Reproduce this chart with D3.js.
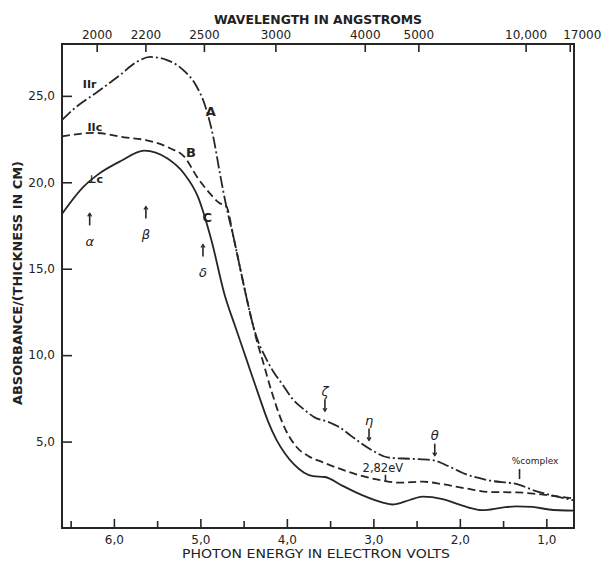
<!DOCTYPE html>
<html>
<head>
<meta charset="utf-8">
<script src="https://cdn.jsdelivr.net/npm/d3@7"></script>
<style>
body { margin: 0; background: #fff; }
svg text { font-family: "DejaVu Sans", sans-serif; fill: #222; }
</style>
</head>
<body>
<div class="chart"></div>
<script>
// curve A, "II r", dash-dot
const energyA = [6.60, 6.45, 6.20, 5.93, 5.74, 5.58, 5.40, 5.20, 5.05, 4.95, 4.85, 4.77, 4.70, 4.62, 4.56, 4.47, 4.40, 4.34, 4.25, 4.15, 4.05, 3.94, 3.80, 3.68, 3.53, 3.40, 3.25, 3.05, 2.82, 2.55, 2.32, 2.13, 1.94, 1.67, 1.32, 1.13, 0.94, 0.68];
const absA    = [23.6, 24.3, 25.2, 26.2, 26.95, 27.25, 27.1, 26.5, 25.6, 24.5, 22.6, 20.4, 18.6, 16.9, 15.5, 13.4, 11.9, 10.9, 9.9, 9.0, 8.3, 7.5, 6.85, 6.4, 6.15, 5.85, 5.3, 4.6, 4.07, 4.0, 3.93, 3.57, 3.13, 2.76, 2.51, 2.15, 1.89, 1.6];

// curve B, "II c", dashed
const energyB = [6.60, 6.23, 5.88, 5.62, 5.35, 5.19, 5.03, 4.88, 4.78, 4.70, 4.62, 4.56, 4.47, 4.40, 4.34, 4.29, 4.17, 4.05, 3.89, 3.74, 3.59, 3.39, 3.16, 2.89, 2.70, 2.43, 2.20, 1.92, 1.66, 1.34, 1.11, 0.68];
const absB    = [22.65, 22.86, 22.6, 22.43, 21.97, 21.5, 20.25, 19.3, 18.8, 18.6, 16.9, 15.5, 13.4, 11.9, 10.7, 9.86, 7.79, 6.07, 4.70, 4.13, 3.81, 3.43, 3.05, 2.74, 2.62, 2.68, 2.53, 2.28, 2.08, 2.06, 1.97, 1.7];

// curve C, "perpendicular c", solid
const energyC = [6.60, 6.35, 6.19, 5.92, 5.65, 5.38, 5.19, 5.03, 4.87, 4.72, 4.60, 4.47, 4.32, 4.22, 4.12, 4.02, 3.92, 3.80, 3.70, 3.56, 3.36, 3.13, 2.89, 2.78, 2.58, 2.43, 2.20, 1.97, 1.74, 1.51, 1.35, 1.16, 0.97, 0.68];
const absC    = [18.17, 19.75, 20.43, 21.23, 21.83, 21.37, 20.51, 19.18, 16.6, 13.5, 11.7, 9.8, 7.6, 6.2, 5.1, 4.3, 3.7, 3.2, 3.0, 2.95, 2.45, 1.90, 1.47, 1.36, 1.62, 1.81, 1.67, 1.29, 1.03, 1.18, 1.25, 1.22, 1.07, 1.0];

// axes
const energyTicks = [6, 5, 4, 3, 2, 1];
const energyMinor = [6.5, 5.5, 4.5, 3.5, 2.5, 1.5];
const absTicks = [5, 10, 15, 20, 25];
const lambdaTicks = [2000, 2200, 2500, 3000, 4000, 5000, 10000, 17000];
const lambdaLabels = ["2000", "2200", "2500", "3000", "4000", "5000", "10,000", "17000"];

// peak markers
const peakLabels = ["α", "β", "δ", "ζ", "η", "θ"];
const peakEnergy = [6.28, 5.63, 4.97, 3.56, 3.05, 2.29];
const peakLevel  = [18.2, 18.6, 16.4, 7.45, 5.76, 4.88];
const peakBelow  = [true, true, true, false, false, false];

// curve labels
const curveNames  = ["IIr", "IIc", "⊥c", "A", "B", "C"];
const curveNameE  = [6.28, 6.22, 6.22, 4.88, 5.11, 4.92];
const curveNameV  = [25.7, 23.2, 20.2, 24.1, 21.7, 17.97];

const margin = {top: 44, right: 33, bottom: 36, left: 62};
const w = 607 - margin.left - margin.right;
const h = 564 - margin.top - margin.bottom;

const svg = d3.select(".chart").append("svg")
    .attr("width", 607)
    .attr("height", 564);

svg.append("rect").attr("width", 607).attr("height", 564).attr("fill", "#fff");

const g = svg.append("g")
    .attr("transform", `translate(${margin.left},${margin.top})`);

const x = d3.scaleLinear().domain([6.6, 0.68]).range([0, w]);
const y = d3.scaleLinear().domain([0, 28]).range([h, 0]);

const ink = "#262626";
const comma = d => d3.format(".1f")(d).replace(".", ",");

// frame
g.append("rect")
    .attr("width", w).attr("height", h)
    .attr("fill", "none").attr("stroke", ink).attr("stroke-width", 2);

function styleAxis(sel) {
    sel.select(".domain").remove();
    sel.selectAll(".tick line").attr("stroke", ink).attr("stroke-width", 1.6);
    sel.selectAll(".tick text").attr("font-size", 12).attr("fill", ink);
}

g.append("g")
    .attr("transform", `translate(0,${h})`)
    .call(d3.axisBottom(x).tickValues(energyTicks).tickSize(-9).tickPadding(7).tickFormat(comma))
    .call(styleAxis);

g.append("g")
    .attr("transform", `translate(0,${h})`)
    .call(d3.axisBottom(x).tickValues(energyMinor).tickSize(-7).tickFormat(""))
    .call(styleAxis);

g.append("g")
    .call(d3.axisLeft(y).tickValues(absTicks).tickSize(-10).tickPadding(7).tickFormat(comma))
    .call(styleAxis);

// wavelength axis on top, E = hc / lambda
const topAxis = g.append("g")
    .call(d3.axisTop(x)
        .tickValues(lambdaTicks.map(l => 12398 / l))
        .tickSize(-8).tickPadding(5)
        .tickFormat((d, i) => lambdaLabels[i]))
    .call(styleAxis);
topAxis.selectAll(".tick text").filter((d, i) => i === lambdaTicks.length - 1).attr("dx", 12);

// titles
svg.append("text")
    .attr("x", 318).attr("y", 24)
    .attr("text-anchor", "middle")
    .attr("font-size", 12.5).attr("font-weight", "bold")
    .attr("textLength", 208).attr("lengthAdjust", "spacingAndGlyphs")
    .text("WAVELENGTH IN ANGSTROMS");

svg.append("text")
    .attr("x", 316).attr("y", 558)
    .attr("text-anchor", "middle")
    .attr("font-size", 12.5)
    .attr("textLength", 268).attr("lengthAdjust", "spacingAndGlyphs")
    .text("PHOTON ENERGY IN ELECTRON VOLTS");

svg.append("text")
    .attr("transform", "translate(22,283) rotate(-90)")
    .attr("text-anchor", "middle")
    .attr("font-size", 12).attr("font-weight", "bold")
    .attr("textLength", 244).attr("lengthAdjust", "spacingAndGlyphs")
    .text("ABSORBANCE/(THICKNESS IN CM)");

// curves
const line = d3.line()
    .curve(d3.curveMonotoneX)
    .x(d => x(d[0]))
    .y(d => y(d[1]));

const curves = [
    {e: energyA, v: absA, dash: "12,3,2,3"},
    {e: energyB, v: absB, dash: "8,4"},
    {e: energyC, v: absC, dash: null}
];

g.selectAll(".curve")
    .data(curves)
    .join("path")
    .attr("class", "curve")
    .attr("d", c => line(d3.zip(c.e, c.v)))
    .attr("fill", "none")
    .attr("stroke", ink)
    .attr("stroke-width", 1.8)
    .attr("stroke-dasharray", c => c.dash);

// curve names
g.selectAll(".cname")
    .data(curveNames)
    .join("text")
    .attr("class", "cname")
    .attr("x", (d, i) => x(curveNameE[i]))
    .attr("y", (d, i) => y(curveNameV[i]))
    .attr("dy", "0.35em")
    .attr("text-anchor", "middle")
    .attr("font-size", (d, i) => i < 3 ? 11 : 13)
    .attr("font-weight", "bold")
    .text(d => d);

// peak ticks and greek letters
const peaks = g.selectAll(".peak")
    .data(peakLabels)
    .join("g")
    .attr("class", "peak")
    .attr("transform", (d, i) => `translate(${x(peakEnergy[i])},${y(peakLevel[i])})`);

peaks.append("line")
    .attr("y1", 0).attr("y2", 12)
    .attr("stroke", ink).attr("stroke-width", 1.6);

// small arrow heads: up for the upper band, down for the tail
peaks.append("path")
    .attr("d", (d, i) => peakBelow[i] ? "M-2,3L0,0L2,3" : "M-2,9L0,12L2,9")
    .attr("fill", "none").attr("stroke", ink).attr("stroke-width", 1.2);

peaks.append("text")
    .attr("y", (d, i) => peakBelow[i] ? 28 : -8)
    .attr("dy", "0.35em")
    .attr("text-anchor", "middle")
    .attr("font-size", 13)
    .attr("font-style", "italic")
    .text(d => d);

// 2.82 eV marker on curve B
const eV282 = 2.86;
g.append("line")
    .attr("x1", x(eV282)).attr("x2", x(eV282))
    .attr("y1", y(3.08)).attr("y2", y(2.68))
    .attr("stroke", ink).attr("stroke-width", 1.6);
g.append("text")
    .attr("x", x(2.89)).attr("y", y(3.49))
    .attr("dy", "0.35em")
    .attr("text-anchor", "middle")
    .attr("font-size", 11.5)
    .text("2,82eV");

// complex marker on curve A
const eComplex = 1.31;
g.append("line")
    .attr("x1", x(eComplex)).attr("x2", x(eComplex))
    .attr("y1", y(3.41)).attr("y2", y(2.83))
    .attr("stroke", ink).attr("stroke-width", 1.6);
g.append("text")
    .attr("x", x(1.13)).attr("y", y(3.87))
    .attr("dy", "0.35em")
    .attr("text-anchor", "middle")
    .attr("font-size", 9)
    .text("%complex");
</script>
</body>
</html>
